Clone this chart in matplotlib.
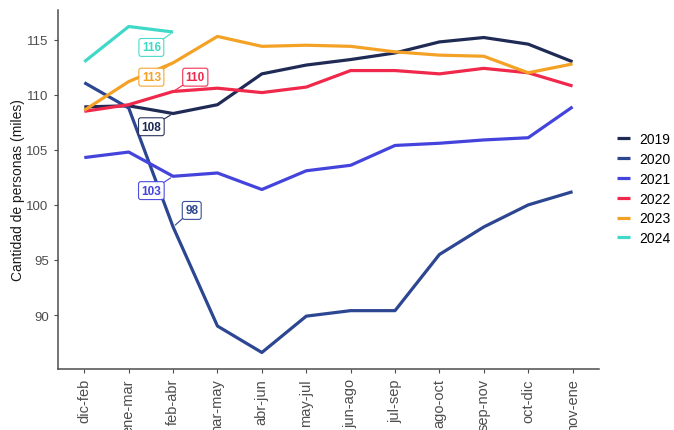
import numpy as np
import matplotlib.pyplot as plt

plt.rcParams['font.family'] = ['Liberation Sans', 'DejaVu Sans']

periodos = ['dic-feb', 'ene-mar', 'feb-abr', 'mar-may', 'abr-jun', 'may-jul',
            'jun-ago', 'jul-sep', 'ago-oct', 'sep-nov', 'oct-dic', 'nov-ene']
y2019 = [108.9, 109.0, 108.3, 109.1, 111.9, 112.7, 113.2, 113.8, 114.8, 115.2, 114.6, 113.0]
y2020 = [111.1, 108.8, 98.0, 89.0, 86.6, 89.9, 90.4, 90.4, 95.5, 98.0, 100.0, 101.2]
y2021 = [104.3, 104.8, 102.6, 102.9, 101.4, 103.1, 103.6, 105.4, 105.6, 105.9, 106.1, 108.9]
y2022 = [108.5, 109.1, 110.3, 110.6, 110.2, 110.7, 112.2, 112.2, 111.9, 112.4, 112.0, 110.8]
y2023 = [108.6, 111.2, 112.9, 115.3, 114.4, 114.5, 114.4, 113.9, 113.6, 113.5, 112.0, 112.8]
y2024 = [113.0, 116.2, 115.7]
anios = ['2019', '2020', '2021', '2022', '2023', '2024']
series = [y2019, y2020, y2021, y2022, y2023, y2024]
colores = ['#1f2a55', '#2c4692', '#4444dd', '#f0284b', '#f4a226', '#40d9c8']

# etiquetas (valor feb-abr) y donde van las cajas
etq_x = [1.51, 2.42, 1.51, 2.5, 1.51, 1.51]
etq_y = [107.1, 99.5, 101.3, 111.6, 111.6, 114.3]

fig = plt.figure(figsize=(6.74, 4.31), dpi=100)
ax = fig.add_axes([0.0856, 0.1415, 0.8034, 0.833])
x = np.arange(len(periodos))
for a, s, c in zip(anios, series, colores):
    ax.plot(x[:len(s)], s, color=c, lw=2.3, label=a, solid_capstyle='butt')
for s, c, tx, ty in zip(series, colores, etq_x, etq_y):
    ax.annotate('%d' % round(s[2]), xy=(2, s[2]), xytext=(tx, ty), color=c,
                fontsize=8.5, fontweight='bold', ha='center', va='center',
                bbox=dict(boxstyle='round,pad=0.25,rounding_size=0.2', fc='white', ec=c, lw=0.8, alpha=0.95),
                arrowprops=dict(arrowstyle='-', color=c, lw=0.8, shrinkA=0, shrinkB=2))

ax.set_xlim(-0.6, 11.6); ax.set_ylim(85.1, 117.7)
ax.set_xticks(x); ax.set_xticklabels(periodos, rotation=90, fontsize=10.5, color='#4d4d4d')
ax.set_yticks([90, 95, 100, 105, 110, 115])
ax.tick_params(axis='y', labelsize=9.5, labelcolor='#4d4d4d')
ax.tick_params(colors='#4d4d4d', length=3, width=0.8)
for sp in ['top', 'right']: ax.spines[sp].set_visible(False)
for sp in ['left', 'bottom']: ax.spines[sp].set_color('#4d4d4d'); ax.spines[sp].set_linewidth(1.1)
ax.set_ylabel('Cantidad de personas (miles)', fontsize=10, color='#1a1a1a', labelpad=1)
ax.legend(loc='center left', bbox_to_anchor=(0.915, 0.56), bbox_transform=fig.transFigure,
          frameon=False, fontsize=10, handlelength=0.95, handletextpad=0.65, labelspacing=0.42,
          borderpad=0, borderaxespad=0)
fig.savefig('out.png', dpi=100)
